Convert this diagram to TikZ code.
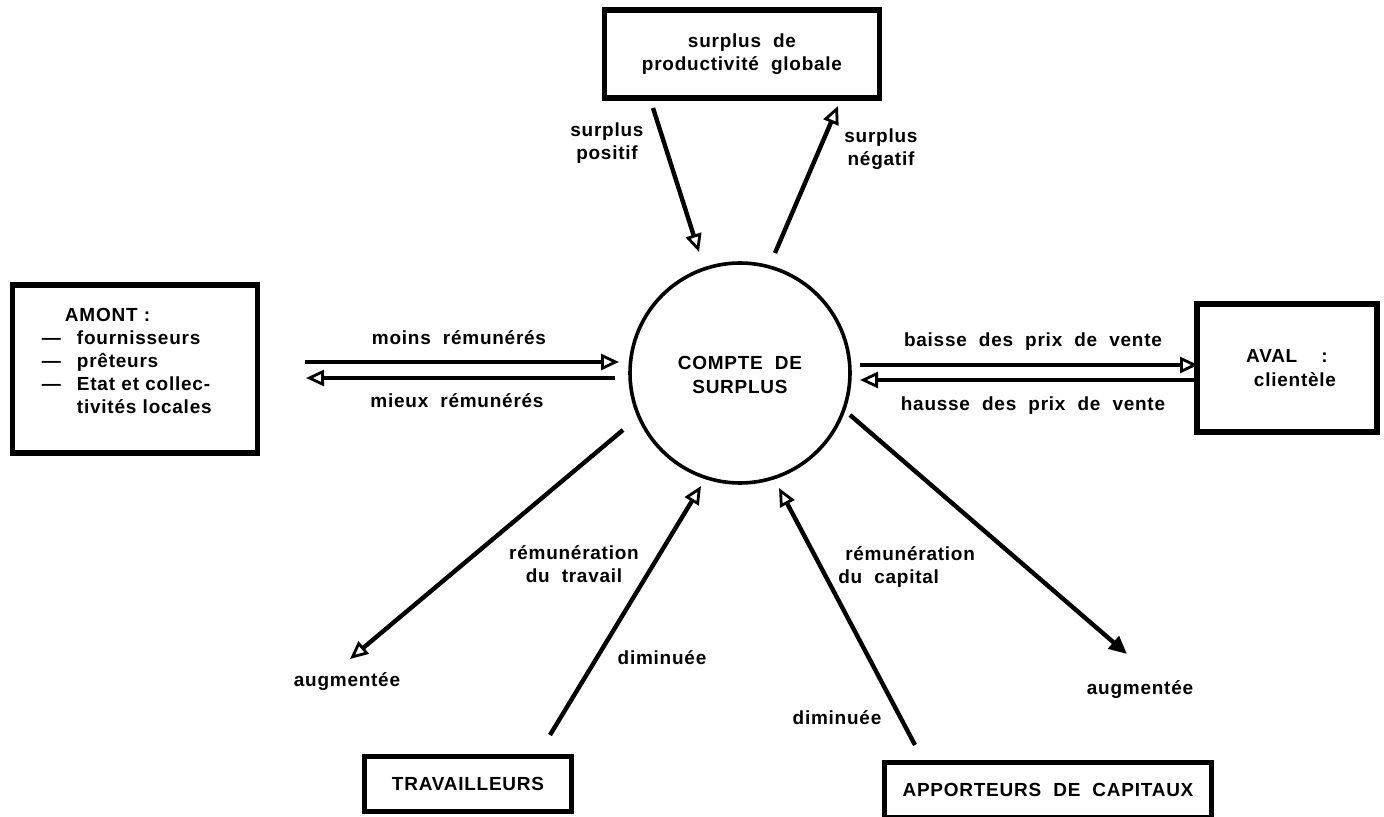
\documentclass[tikz,border=0pt]{standalone}
\usepackage{fontspec}
\setmainfont{Liberation Sans}[LetterSpace=4,WordSpace=2]
\usetikzlibrary{arrows.meta}

\begin{document}
\begin{tikzpicture}[x=0.25mm,y=-0.25mm,
  every node/.style={font=\bfseries\fontsize{13.5}{16.5}\selectfont},
  boite/.style={draw,line width=1.4mm,inner sep=0pt,align=center},
  lbl/.style={align=center,inner sep=0pt},
  fleche/.style={line width=1.1mm,-{Triangle[open,length=4.5mm,width=4mm,line width=0.7mm]}},
  flechep/.style={line width=1.1mm,-{Triangle[length=4.5mm,width=4mm]}}]
\useasboundingbox (0,0) rectangle (1384,817);
% le compte de surplus
\node [draw,circle,line width=0.9mm,minimum size=55mm,inner sep=0pt] (cs) at (740,373) {};
\node [lbl] (cst) at (740,375) {COMPTE DE\\SURPLUS};
% les partenaires
\node [boite,minimum width=68.75mm,minimum height=22mm] (spg) at (742,54) {surplus de\\productivité globale};
\node [boite,minimum width=61.25mm,minimum height=42mm] (amont) at (135,369) {};
\node [lbl,text width=42.5mm,align=left] (amontt) at (127,361) {\hspace*{5.75mm}AMONT :\\\makebox[8.75mm][l]{—}fournisseurs\\\makebox[8.75mm][l]{—}prêteurs\\\makebox[8.75mm][l]{—}Etat et collec-\\\makebox[8.75mm][l]{}tivités locales};
\node [boite,minimum width=45mm,minimum height=32mm] (aval) at (1287,368) {AVAL \ :\\\hspace*{4mm}clientèle};
\node [boite,minimum width=51.75mm,minimum height=13.75mm] (trav) at (468,784) {TRAVAILLEURS};
\node [boite,minimum width=81.75mm,minimum height=13.75mm] (capi) at (1048,790) {APPORTEURS DE CAPITAUX};
% extremites des fleches
\coordinate (sp1) at (653,108); \coordinate (sp2) at (699,252);
\coordinate (sn1) at (775,253); \coordinate (sn2) at (838,106);
\coordinate (mr1) at (305,362); \coordinate (mr2) at (619,362);
\coordinate (xr1) at (615,378); \coordinate (xr2) at (306,378);
\coordinate (bp1) at (860,365); \coordinate (bp2) at (1198,365);
\coordinate (hp1) at (1195,380); \coordinate (hp2) at (860,380);
\coordinate (ag1) at (623,430); \coordinate (ag2) at (350,659);
\coordinate (tr1) at (550,735); \coordinate (tr2) at (701,486);
\coordinate (ca1) at (915,745); \coordinate (ca2) at (779,488);
\coordinate (ad1) at (850,415); \coordinate (ad2) at (1127,654);
\draw [fleche] (sp1) -- (sp2);
\draw [fleche] (sn1) -- (sn2);
\draw [fleche] (mr1) -- (mr2);
\draw [fleche] (xr1) -- (xr2);
\draw [fleche] (bp1) -- (bp2);
\draw [fleche] (hp1) -- (hp2);
\draw [fleche] (ag1) -- (ag2);
\draw [fleche] (tr1) -- (tr2);
\draw [fleche] (ca1) -- (ca2);
\draw [flechep] (ad1) -- (ad2);
% textes des fleches
\node [lbl] (lsp) at (607,143) {surplus\\positif};
\node [lbl] (lsn) at (881,149) {surplus\\négatif};
\node [lbl] (lmr) at (459,338) {moins rémunérés};
\node [lbl] (lxr) at (457,401) {mieux rémunérés};
\node [lbl] (lbp) at (1033,342) {baisse des prix de vente};
\node [lbl] (lhp) at (1033,406) {hausse des prix de vente};
\node [lbl] (lag) at (347,682) {augmentée};
\node [lbl] (ltr) at (574,564) {rémunération\\du travail};
\node [lbl] (ldt) at (662,658) {diminuée};
\node [lbl,align=left,anchor=west] (lca) at (838,567) {\hspace*{1.75mm}rémunération\\du capital};
\node [lbl] (ldc) at (837,718) {diminuée};
\node [lbl] (lad) at (1140,690) {augmentée};
\end{tikzpicture}
\end{document}
